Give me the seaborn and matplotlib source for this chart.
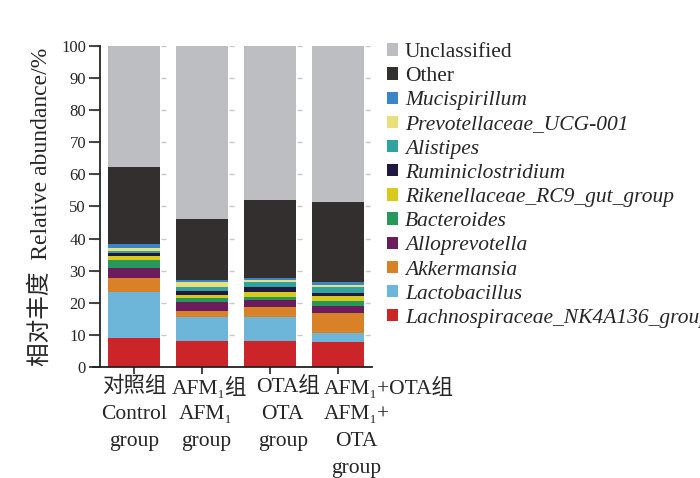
import numpy as np
import pandas as pd
import matplotlib
matplotlib.use("Agg")
import matplotlib.pyplot as plt
from matplotlib.patches import Patch
import seaborn as sns

# ── Data ──────────────────────────────────────────────────────────────────────
groups = ["Control", "AFM1", "OTA", "AFM1+OTA"]
group_cn = ["对照组", "AFM₁组", "OTA组", "AFM₁+OTA组"]
group_en = ["Control\ngroup", "AFM₁\ngroup", "OTA\ngroup", "AFM₁+\nOTA\ngroup"]

# taxa from bottom of the stack to the top
taxa = [
    "Lachnospiraceae_NK4A136_group", "Lactobacillus", "Akkermansia",
    "Alloprevotella", "Bacteroides", "Rikenellaceae_RC9_gut_group",
    "Ruminiclostridium", "Alistipes", "Prevotellaceae_UCG-001",
    "Mucispirillum", "Other", "Unclassified",
]
lachno = [9.2, 8.2, 8.1, 7.7]
lacto = [14.1, 7.3, 7.4, 3.0]
akker = [4.5, 2.0, 3.3, 6.0]
allop = [3.0, 2.7, 2.0, 2.3]
bacter = [2.6, 1.4, 1.1, 1.6]
riken = [1.1, 1.0, 1.4, 1.5]
rumin = [1.0, 1.2, 1.7, 1.0]
alist = [0.7, 1.2, 1.4, 1.7]
prevo = [0.8, 1.6, 0.6, 0.7]
mucis = [1.3, 0.4, 0.8, 0.9]
other = [24.0, 19.0, 24.2, 25.1]
unclass = [37.8, 54.0, 48.0, 48.5]
values = [lachno, lacto, akker, allop, bacter, riken, rumin, alist,
          prevo, mucis, other, unclass]

colors = ["#CC2529", "#6DB6D9", "#D98127", "#6B1C5D", "#27985A", "#D8CA1C",
          "#22173F", "#2EA39F", "#E9E07C", "#3B84C7", "#332F2F", "#BDBEC2"]
italic = [True] * 10 + [False, False]

# ── Style ─────────────────────────────────────────────────────────────────────
sns.set_style("ticks")
plt.rcParams["font.family"] = ["Liberation Serif", "Noto Sans CJK SC", "DejaVu Sans"]
plt.rcParams["font.size"] = 15.5

fig = plt.figure(figsize=(7, 4.78), dpi=100)
ax = fig.add_axes([0.133, 0.232, 0.399, 0.672])

cum = np.cumsum(np.array(values), axis=0)
cum[-1] = 100.0

# tallest (cumulative) first so the shorter ones sit on top
for i in range(len(taxa) - 1, -1, -1):
    sns.barplot(x=groups, y=cum[i], order=groups, color=colors[i],
                saturation=1, width=0.765, linewidth=0, ax=ax, zorder=2)

ax.set_xlim(-0.6, 3.5)
ax.set_ylim(0, 100)
ax.set_yticks(np.arange(0, 101, 10))
ax.tick_params(axis="y", labelsize=12, length=8, width=1.2, pad=2)
ax.tick_params(axis="x", length=5, width=1.2, labelbottom=False)
ax.spines["left"].set_position(("data", -0.5))
for s in ["left", "bottom"]:
    ax.spines[s].set_linewidth(1.3)
    ax.spines[s].set_color("#222222")
sns.despine(ax=ax)

ax.yaxis.grid(True, color="#C8C8C8", linewidth=1, linestyle=(0, (3.6, 45.4)), zorder=0)
ax.set_axisbelow(True)

ax.set_xlabel("")
ax.set_ylabel("相对丰度  Relative abundance/%", fontsize=17, labelpad=7)

# group labels: Chinese row, then English lines
cn_off = [0, 5, 13, 36]
en_off = [0, 3, 9, 13]
for k in range(len(groups)):
    ax.annotate(group_cn[k], xy=(k, 0), xycoords=("data", "axes fraction"),
                xytext=(cn_off[k], -7), textcoords="offset points",
                ha="center", va="top", fontsize=15.5)
    ax.annotate(group_en[k], xy=(k, 0), xycoords=("data", "axes fraction"),
                xytext=(en_off[k], -27), textcoords="offset points",
                ha="center", va="top", fontsize=15.5, linespacing=1.58)

# legend, top of the stack first
handles = [Patch(facecolor=colors[i], edgecolor="none") for i in range(len(taxa) - 1, -1, -1)]
labels = [taxa[i] for i in range(len(taxa) - 1, -1, -1)]
leg = fig.legend(handles, labels, loc="upper left", bbox_to_anchor=(0.553, 0.91),
                 frameon=False, fontsize=15.5, handlelength=0.5, handleheight=0.5,
                 handletextpad=0.32, labelspacing=0.24, borderaxespad=0, borderpad=0)
for txt, i in zip(leg.get_texts(), range(len(taxa) - 1, -1, -1)):
    if italic[i]:
        txt.set_fontstyle("italic")

fig.savefig("out.png", dpi=100)
